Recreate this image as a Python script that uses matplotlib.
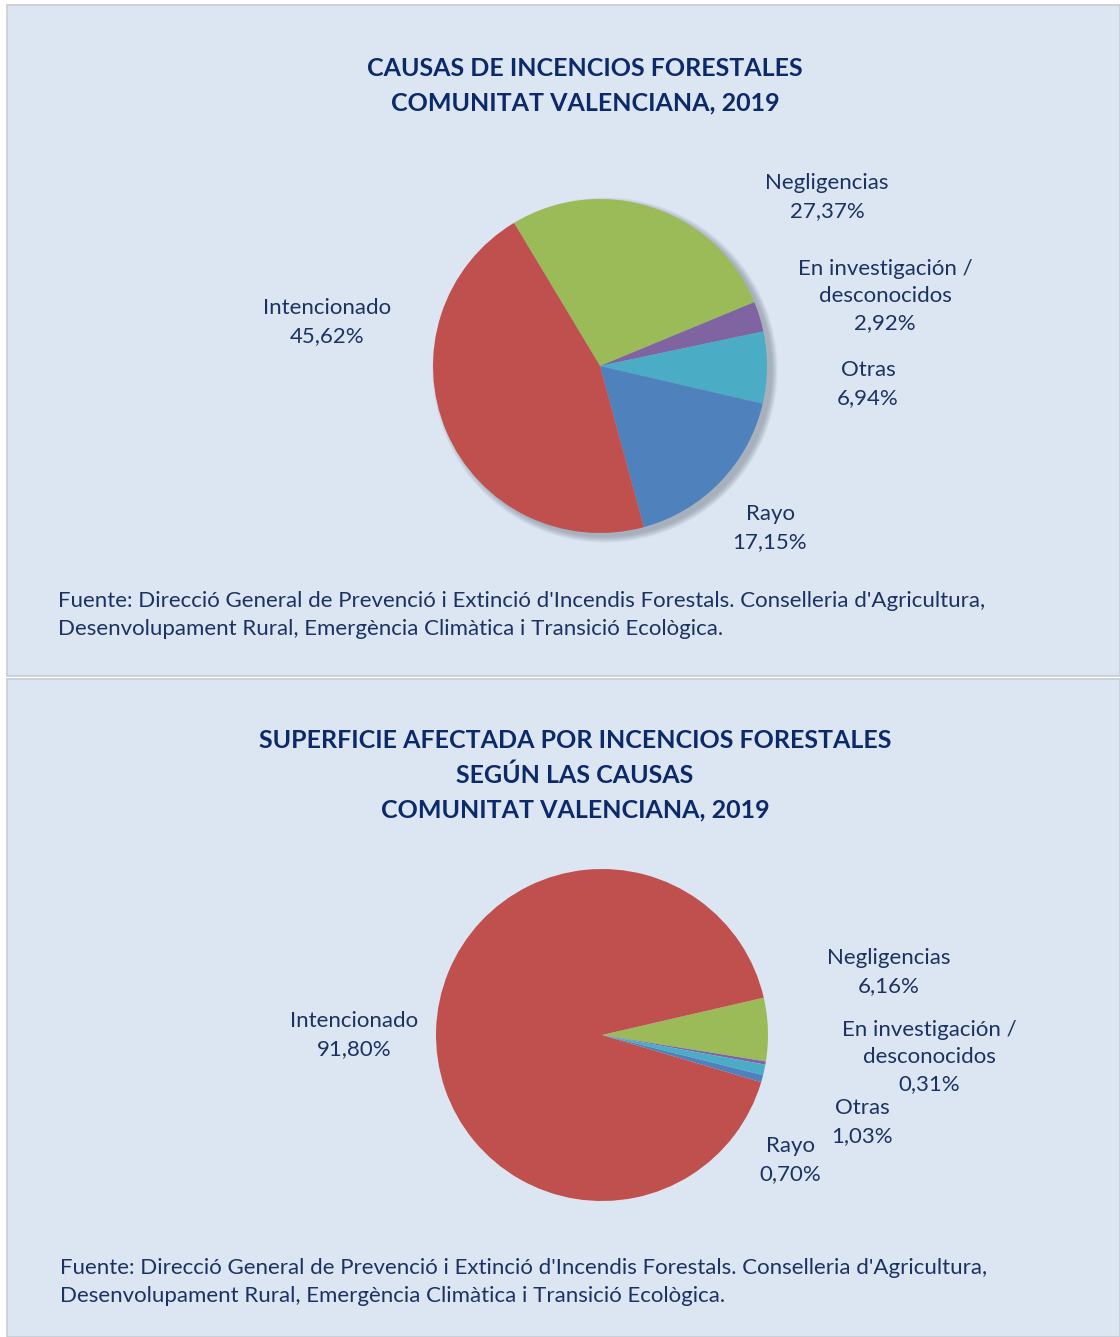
import matplotlib.pyplot as plt
from matplotlib.patches import Rectangle, Circle

plt.rcParams['font.family'] = ['Lato', 'DejaVu Sans']

W, H = 1120, 1337

causas = ["Negligencias", "En investigación /\ndesconocidos", "Otras", "Rayo", "Intencionado"]
colores = ["#9bbb59", "#8064a2", "#4bacc6", "#4f81bd", "#c0504d"]

# porcentaje de incendios por causa
incendios = [27.37, 2.92, 6.94, 17.15, 45.62]
# porcentaje de superficie afectada por causa
superficie = [6.16, 0.31, 1.03, 0.70, 91.80]

titulo1 = "CAUSAS DE INCENCIOS FORESTALES\nCOMUNITAT VALENCIANA, 2019"
titulo2 = "SUPERFICIE AFECTADA POR INCENCIOS FORESTALES\nSEGÚN LAS CAUSAS\nCOMUNITAT VALENCIANA, 2019"
fuente = ("Fuente: Direcció General de Prevenció i Extinció d'Incendis Forestals. Conselleria d'Agricultura,\n"
          "Desenvolupament Rural, Emergència Climàtica i Transició Ecològica.")

texto = "#1c3361"
fondo = "#dce6f2"

fig = plt.figure(figsize=(W / 100, H / 100), dpi=100)
fig.patch.set_facecolor("white")
ax = fig.add_axes([0, 0, 1, 1])
ax.set_xlim(0, W)
ax.set_ylim(0, H)
ax.set_aspect("equal")
ax.axis("off")


def y(py):
    # pixel row (from top) to data coordinate
    return H - py


# panels
ax.add_patch(Rectangle((7, y(676)), W - 7, 671, facecolor=fondo, edgecolor="#c8cdd4", lw=1.2, zorder=0))
ax.add_patch(Rectangle((7, y(1337)), W - 7, 658, facecolor=fondo, edgecolor="#c8cdd4", lw=1.2, zorder=0))


def fmt(v):
    return f"{v:.2f}%".replace(".", ",")


def panel(valores, centro, radio, inicio, titulo, tpos, etiquetas, fpos, sombra):
    cx, cy = centro
    if sombra:
        for k in range(8):
            ax.add_patch(Circle((cx + 5, y(cy) - 4), radio + k * 0.8,
                                facecolor="#5a6470", edgecolor="none", alpha=0.06, zorder=1))
    ax.pie(valores, colors=colores, startangle=inicio, counterclock=False,
           center=(cx, y(cy)), radius=radio, frame=True,
           wedgeprops=dict(linewidth=0, zorder=2))
    ax.text(tpos[0], y(tpos[1]), titulo, ha="center", va="center", fontsize=18, fontweight="bold",
            color="#0c2a6a", linespacing=1.6)
    for nombre, v, (lx, ly) in zip(causas, valores, etiquetas):
        ax.text(lx, y(ly), nombre + "\n" + fmt(v), ha="center", va="center", fontsize=16,
                color=texto, linespacing=1.45)
    ax.text(fpos[0], y(fpos[1]), fuente, ha="left", va="center", fontsize=16, color=texto,
            linespacing=1.45)


panel(incendios, (600, 366), 167, 121, titulo1, (585, 86),
      [(827, 197), (885, 296), (868, 384), (770, 528), (327, 322)], (58, 615), True)
panel(superficie, (602, 1035), 166, 13, titulo2, (575, 775),
      [(889, 972), (929, 1057), (862, 1122), (790, 1160), (354, 1035)], (60, 1282), False)

ax.set_xlim(0, W)
ax.set_ylim(0, H)
ax.axis("off")

plt.savefig("out.png", dpi=100, facecolor=fig.get_facecolor())
